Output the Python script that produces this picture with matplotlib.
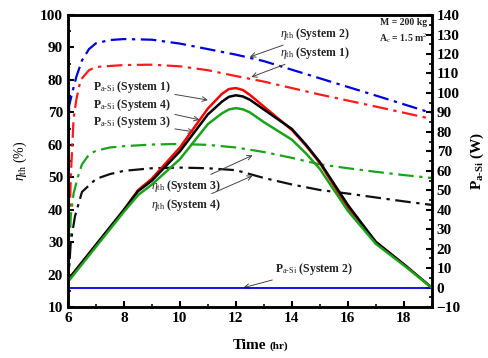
import numpy as np
import matplotlib
matplotlib.use('Agg')
import matplotlib.pyplot as plt
from matplotlib.ticker import MultipleLocator

plt.rcParams['font.family'] = ['Liberation Serif', 'DejaVu Serif']
plt.rcParams['mathtext.fontset'] = 'custom'
plt.rcParams['mathtext.rm'] = 'Liberation Serif'
plt.rcParams['mathtext.it'] = 'Liberation Serif:italic'
plt.rcParams['mathtext.bf'] = 'Liberation Serif:bold'

# thermal efficiency (%), left axis
t_eta1 = [6.0, 6.1, 6.2, 6.3, 6.45, 6.75, 7.0, 8.0, 9.0, 10.0, 11.0, 12.0, 13.0, 15.0, 17.0, 19.0]
eta1 = [16, 50, 68, 74, 80, 83, 84, 84.6, 84.7, 84.2, 83, 81.2, 79.5, 75.5, 71.8, 68]
t_eta2 = [6.0, 6.04, 6.15, 6.3, 6.5, 6.75, 7.0, 7.5, 8.0, 9.0, 10.0, 11.0, 12.0, 13.0, 15.0, 17.0, 19.0]
eta2 = [15, 72, 76, 81, 86, 89.5, 91.3, 92.3, 92.6, 92.4, 91.2, 89.5, 87.8, 85.8, 80.5, 75.2, 69.8]
t_eta3 = [6.0, 6.1, 6.2, 6.35, 6.5, 6.75, 7.0, 7.5, 8.0, 9.0, 10.0, 11.0, 12.0, 13.0, 14.0, 15.0, 16.0, 17.0, 18.0, 19.0]
eta3 = [16, 38, 45, 50, 54, 57, 58.2, 59.2, 59.6, 60.1, 60.3, 60, 59.2, 57.8, 56, 54, 52.8, 51.7, 50.7, 49.8]
t_eta4 = [6.0, 6.1, 6.25, 6.5, 7.0, 7.5, 8.0, 9.0, 10.0, 11.0, 12.0, 12.5, 13.0, 14.0, 15.0, 16.0, 17.0, 18.0, 19.0]
eta4 = [16, 30, 38, 45.5, 49.5, 51, 52, 52.8, 53, 52.8, 52.2, 51, 49.8, 47.8, 46.1, 45, 43.8, 42.6, 41.5]

# a-Si power output (W), right axis
t_p = [6, 7, 8, 8.5, 9, 10, 11, 11.5, 11.75, 12, 12.25, 12.5, 13, 13.5, 14, 14.5, 15, 16, 17, 18, 19]
p1 = [4, 22, 40, 50, 56, 72, 92, 99.5, 102, 102.5, 101.5, 99, 93, 87, 81, 73, 64, 41, 23.5, 12, 0]
p4 = [4, 22, 40, 49.5, 55, 70, 89, 95.5, 98, 98.8, 98.2, 96.5, 91.5, 86.5, 81.5, 73.5, 64.5, 42.5, 23.5, 12, 0]
p3 = [3, 21, 39, 47.5, 53, 66, 84, 89.5, 91.5, 92.2, 91.6, 90, 85, 80.5, 76, 69, 61, 39.5, 22.5, 11.5, 0]
t_p2 = [6, 19]
p2 = [0, 0]

fig = plt.figure(figsize=(4.89, 3.58), dpi=100)
ax = fig.add_axes([0.139, 0.142, 0.744, 0.816])
ax2 = ax.twinx()

dd = (0, (7, 2.5, 1.5, 2.5))
ax.plot(t_eta2, eta2, color='#0000dd', lw=1.6, ls=dd)
ax.plot(t_eta1, eta1, color='#ff1a1a', lw=1.6, ls=dd)
ax.plot(t_eta3, eta3, color='#1aa31a', lw=1.6, ls=dd)
ax.plot(t_eta4, eta4, color='#111111', lw=1.6, ls=dd)

ax2.plot(t_p2, p2, color='#0000dd', lw=1.3)
ax2.plot(t_p, p1, color='#ff0000', lw=1.8)
ax2.plot(t_p, p4, color='#000000', lw=1.8)
ax2.plot(t_p, p3, color='#1aa31a', lw=1.8)

ax.set_xlim(6, 19)
ax.set_ylim(10, 100)
ax2.set_ylim(-10, 140)
ax.xaxis.set_major_locator(MultipleLocator(2))
ax.xaxis.set_minor_locator(MultipleLocator(1))
ax.yaxis.set_major_locator(MultipleLocator(10))
ax.yaxis.set_minor_locator(MultipleLocator(5))
ax2.yaxis.set_major_locator(MultipleLocator(10))
ax2.yaxis.set_minor_locator(MultipleLocator(5))

for a in (ax, ax2):
    for s in a.spines.values():
        s.set_linewidth(1.8)
ax.tick_params(axis='both', which='major', direction='in', length=4, width=1.5,
               labelsize=11, top=False, right=False)
ax.tick_params(axis='both', which='minor', direction='in', length=2.5, width=1.2,
               top=False, right=False)
ax2.tick_params(axis='y', which='major', direction='in', length=4, width=1.5, labelsize=11)
ax2.tick_params(axis='y', which='minor', direction='in', length=2.5, width=1.2)
for lab in ax.get_xticklabels() + ax.get_yticklabels() + ax2.get_yticklabels():
    lab.set_fontweight('bold')

ax.set_ylabel(r'$\eta_{\rm th}$ (%)', fontsize=10, labelpad=8)
ax2.set_ylabel(r'$\mathbf{P_{a\text{-}Si}}$ (W)', fontsize=11, fontweight='bold', labelpad=6)
fig.text(0.545, 0.025, 'Time', fontsize=11, fontweight='bold', ha='right')
fig.text(0.552, 0.025, '(hr)', fontsize=8, fontweight='bold', ha='left')

# all annotations placed in left-axis (eta) coordinates
akw = dict(arrowstyle='->', color='#444444', lw=0.7, shrinkA=1, shrinkB=0)
tkw = dict(fontsize=8.5, fontweight='bold', color='#222222', va='center')
ax.annotate(r'P$_{\rm a\text{-}Si}$ (System 1)', xy=(11.0, 73.8), xytext=(6.89, 77.8),
            arrowprops=akw, **tkw)
ax.annotate(r'P$_{\rm a\text{-}Si}$ (System 4)', xy=(10.7, 67.7), xytext=(6.89, 72.3),
            arrowprops=akw, **tkw)
ax.annotate(r'P$_{\rm a\text{-}Si}$ (System 3)', xy=(10.5, 64.0), xytext=(6.89, 67.0),
            arrowprops=akw, **tkw)
ax.annotate(r'P$_{\rm a\text{-}Si}$ (System 2)', xy=(12.27, 16.0), xytext=(13.4, 21.8),
            arrowprops=akw, **tkw)
ax.annotate(r'$\eta_{\rm th}$ (System 2)', xy=(12.5, 87.1), xytext=(13.58, 94.2),
            arrowprops=akw, **tkw)
ax.annotate(r'$\eta_{\rm th}$ (System 1)', xy=(12.55, 80.9), xytext=(13.58, 88.3),
            arrowprops=akw, **tkw)
ax.annotate(r'$\eta_{\rm th}$ (System 3)', xy=(12.6, 56.8), xytext=(8.97, 47.4),
            arrowprops=akw, **tkw)
ax.annotate(r'$\eta_{\rm th}$ (System 4)', xy=(12.6, 50.5), xytext=(8.97, 41.5),
            arrowprops=akw, **tkw)
ax.text(18.85, 96.8, 'M = 200 kg', fontsize=7, fontweight='bold', ha='right', color='#222222')
ax.text(18.85, 91.8, r'A$_{\rm c}$ = 1.5 m$^{2}$', fontsize=7, fontweight='bold', ha='right',
        color='#222222')

fig.savefig('out.png', dpi=100)
